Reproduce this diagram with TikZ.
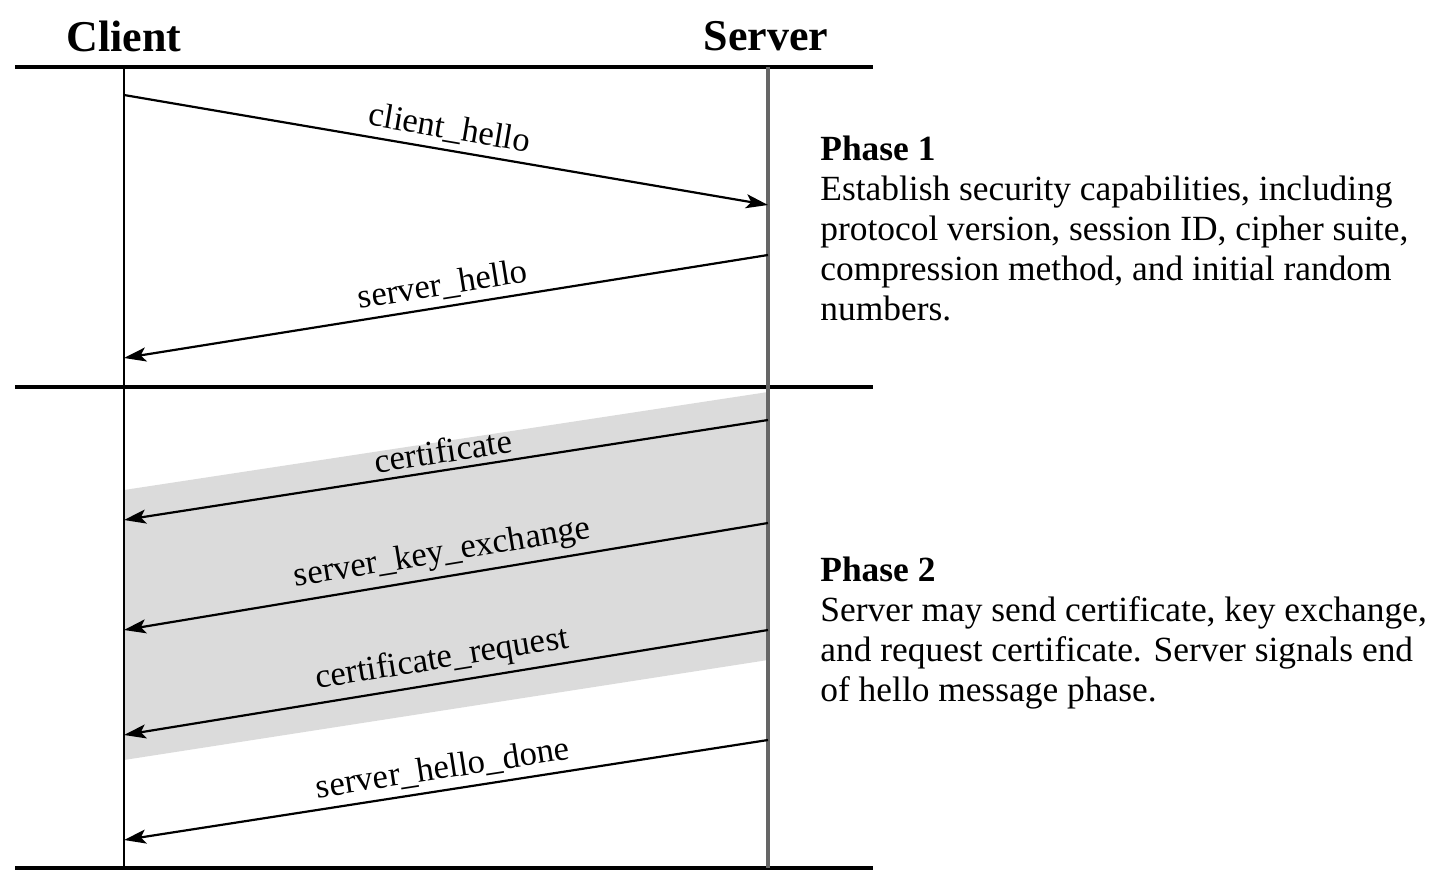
\documentclass[tikz,border=0pt]{standalone}
\usepackage{fontspec}
\setmainfont{Liberation Serif}
\usetikzlibrary{arrows.meta}
\begin{document}
\begin{tikzpicture}[x=0.5pt,y=-0.5pt]
  \tikzstyle{msg}=[line width=1.1pt, -{Stealth[length=11pt,width=7pt,inset=2.5pt]}]
  \tikzstyle{lbl}=[font=\fontsize{17.3}{20}\selectfont, midway, above, sloped, inner sep=3pt]
  \tikzstyle{rule}=[line width=1.8pt]
  \tikzstyle{phase}=[anchor=north west, align=left, inner sep=0pt,
                     font=\fontsize{17.7}{20}\selectfont]
  \useasboundingbox (0,0) rectangle (1435,872);
  % shaded band behind the phase 2 messages
  \fill[black!14] (124,490) -- (768,392) -- (768,660) -- (124,760) -- cycle;
  % headers and rules
  \node[font=\bfseries\fontsize{22}{24}\selectfont] (client) at (124,36) {Client};
  \node[font=\bfseries\fontsize{22}{24}\selectfont] (server) at (766,36) {Server};
  \draw[rule] (15,67) -- (873,67);
  \draw[rule] (15,387) -- (873,387);
  \draw[rule] (15,868) -- (873,868);
  % lifelines
  \draw[line width=1.2pt] (124,67) -- (124,868);
  \draw[line width=1.8pt, black!60] (768,67) -- (768,868);
  % client to server
  \coordinate (c0) at (124,95);
  \coordinate (s0) at (768,205);
  \draw[msg] (c0) -- (s0) node[lbl] {client\_hello};
  % server to client
  \foreach \ys/\yc/\txt [count=\i] in {255/358/server\_hello,
      420/520/certificate, 523/630/server\_key\_exchange,
      630/735/certificate\_request, 740/840/server\_hello\_done} {
    \coordinate (s\i) at (768,\ys);
    \coordinate (c\i) at (124,\yc);
    \draw[msg] (s\i) -- (c\i) node[lbl] {\txt};
  }
  % phase descriptions
  \node[phase] (ph1) at (820,136) {\textbf{Phase 1}\\
    Establish security capabilities, including\\
    protocol version, session ID, cipher suite,\\
    compression method, and initial random\\
    numbers.};
  \node[phase] (ph2) at (820,557) {\textbf{Phase 2}\\
    Server may send certificate, key exchange,\\
    and request certificate. Server signals end\\
    of hello message phase.};
\end{tikzpicture}
\end{document}
